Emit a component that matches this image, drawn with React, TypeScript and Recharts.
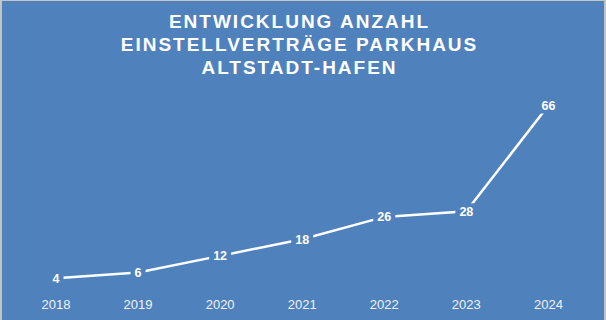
import React from 'react';
import { LineChart, Line, XAxis, YAxis, LabelList } from 'recharts';

const years = ['2018', '2019', '2020', '2021', '2022', '2023', '2024'];
const contracts = [4, 6, 12, 18, 26, 28, 66];
const titleLines = ['ENTWICKLUNG ANZAHL', 'EINSTELLVERTRÄGE PARKHAUS', 'ALTSTADT-HAFEN'];

const data = years.map((year, i) => ({ year, value: contracts[i] }));

const BG = '#4F81BD';

const PointLabel = (props: any) => {
  const { x, y, value } = props;
  const txt = String(value);
  const w = txt.length * 7 + 8;
  return (
    <g>
      <rect x={x - w / 2} y={y - 8} width={w} height={16} fill={BG} />
      <text
        x={x}
        y={y}
        dy="0.36em"
        textAnchor="middle"
        fill="#FFFFFF"
        fontSize={12.5}
        fontWeight="bold"
        fontFamily="'Liberation Sans', Arial, sans-serif"
      >
        {txt}
      </text>
    </g>
  );
};

export default function App() {
  return (
    <div
      style={{
        position: 'absolute',
        left: 0,
        top: 0,
        width: 606,
        height: 320,
        background: BG,
        boxSizing: 'border-box',
        borderLeft: '2px solid #C4C4C4',
        borderTop: '1px solid #C4C4C4',
        borderRight: '2px solid #C4C4C4',
        overflow: 'hidden',
      }}
    >
      <div
        style={{
          position: 'absolute',
          left: -2,
          top: 8.5,
          width: 599,
          textAlign: 'center',
          color: '#FFFFFF',
          fontFamily: "'Liberation Sans', Arial, sans-serif",
          fontWeight: 'bold',
          fontSize: 19,
          letterSpacing: 2,
          lineHeight: '23.3px',
        }}
      >
        {titleLines.map((t) => (
          <div key={t}>{t}</div>
        ))}
      </div>
      <div style={{ position: 'absolute', left: -2, top: -1 }}>
        <LineChart
          width={606}
          height={320}
          data={data}
          margin={{ top: 94.4, right: 57.6, bottom: 0, left: 56 }}
        >
          <XAxis
            dataKey="year"
            axisLine={false}
            tickLine={false}
            height={30.7}
            interval={0}
            tickMargin={4}
            tick={{
              fill: '#F2F2F2',
              fontSize: 13,
              fontFamily: "'Liberation Sans Narrow', 'Arial Narrow', 'Liberation Sans', sans-serif",
            }}
          />
          <YAxis hide domain={[0, 70]} />
          <Line
            type="linear"
            dataKey="value"
            stroke="#FFFFFF"
            strokeWidth={2.5}
            dot={false}
            isAnimationActive={false}
          >
            <LabelList dataKey="value" content={<PointLabel />} />
          </Line>
        </LineChart>
      </div>
    </div>
  );
}
